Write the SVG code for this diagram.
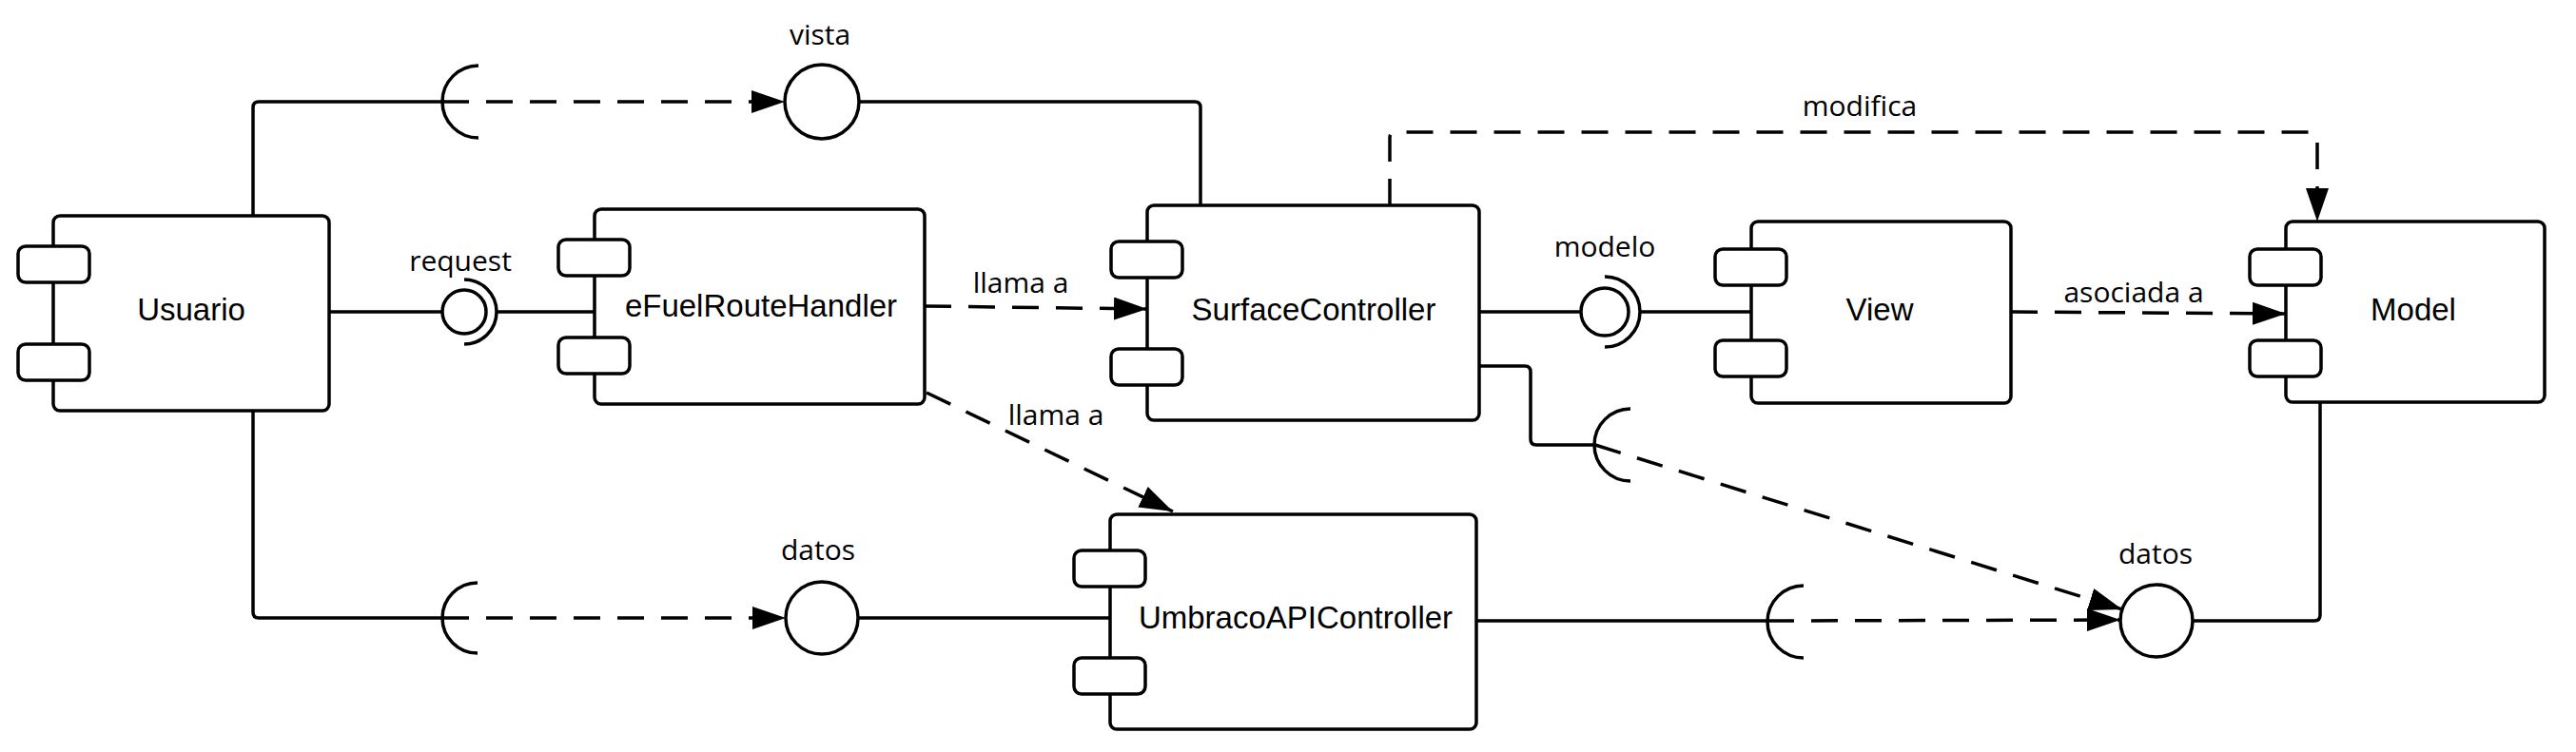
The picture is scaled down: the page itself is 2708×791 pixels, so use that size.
<svg xmlns="http://www.w3.org/2000/svg" width="2708" height="791" viewBox="0 0 2708 791">
<style>
.box{fill:#fff;stroke:#000;stroke-width:3.5}
.port{fill:#fff;stroke:#000;stroke-width:3.5}
.ntext{font-family:"Liberation Sans",Arial,sans-serif;font-size:33px;text-anchor:middle;fill:#000}
.lbl{font-family:"Open Sans","Liberation Sans",sans-serif;font-size:30px;text-anchor:middle;fill:#000}
.solid{fill:none;stroke:#000;stroke-width:3.5}
.dash{fill:none;stroke:#000;stroke-width:3.5;stroke-dasharray:28 18}
.iface{fill:#fff;stroke:#000;stroke-width:3.5}
.sock{fill:none;stroke:#000;stroke-width:3.5}
</style>
<defs>
<marker id="arr" markerUnits="userSpaceOnUse" markerWidth="40" markerHeight="30" refX="35" refY="12" orient="auto">
<path d="M0,0 L35,12 L0,24 Z" fill="#000"/>
</marker>
</defs>
<g id="connectors">
<path class="solid" d="M266,227 V113 Q266,107 272,107 H465"/>
<path class="dash" d="M465,107 H825" marker-end="url(#arr)"/>
<path class="solid" d="M903,107 H1256 Q1262,107 1262,113 V216"/>
<path class="solid" d="M266,432 V644 Q266,650 272,650 H465"/>
<path class="dash" d="M465,650 H826" marker-end="url(#arr)"/>
<path class="solid" d="M902,650 H1167"/>
<path class="solid" d="M346,328 H465"/>
<path class="solid" d="M522,328 H625"/>
<path class="dash" d="M972,322 L1206,325" marker-end="url(#arr)"/>
<path class="dash" d="M974,413 L1233,538" marker-end="url(#arr)"/>
<path class="solid" d="M1555,328 H1662"/>
<path class="solid" d="M1724,328 H1841"/>
<path class="dash" d="M2114,328 L2403,330" marker-end="url(#arr)"/>
<path class="dash" d="M1461,216 V145 Q1461,139 1467,139 H2430 Q2436,139 2436,145 V233" marker-end="url(#arr)"/>
<path class="solid" d="M1555,385 H1603 Q1609,385 1609,391 V462 Q1609,468 1615,468 H1677"/>
<path class="dash" d="M1677,468 L2231,641" marker-end="url(#arr)"/>
<path class="solid" d="M1552,653 H1858"/>
<path class="dash" d="M1858,653 L2229,652" marker-end="url(#arr)"/>
<path class="solid" d="M2305,653 H2433 Q2439,653 2439,647 V423"/>
<path class="sock" d="M503,69 A38,38 0 0 0 503,145"/>
<path class="sock" d="M502,613 A37,37 0 0 0 502,687"/>
<path class="sock" d="M1714,430 A38,38 0 0 0 1714,506"/>
<path class="sock" d="M1896,616 A38,38 0 0 0 1896,692"/>
<path class="sock" d="M488,294 A34,34 0 0 1 488,362"/>
<path class="sock" d="M1687,291 A37,37 0 0 1 1687,365"/>
<text class="lbl" x="1073" y="308">llama a</text>
<text class="lbl" x="1110" y="447">llama a</text>
<text class="lbl" x="1955" y="122">modifica</text>
<text class="lbl" x="2243" y="318">asociada a</text>
</g>
<g id="vista">
<circle class="iface" cx="864" cy="107" r="39"/>
<text class="lbl" x="862" y="47">vista</text>
</g>
<g id="datos1">
<circle class="iface" cx="864" cy="650" r="38"/>
<text class="lbl" x="860" y="589">datos</text>
</g>
<g id="datos2">
<circle class="iface" cx="2267" cy="653" r="38"/>
<text class="lbl" x="2266" y="593">datos</text>
</g>
<g id="request">
<circle class="iface" cx="488" cy="328" r="23"/>
<text class="lbl" x="484" y="285">request</text>
</g>
<g id="modelo">
<circle class="iface" cx="1687" cy="328" r="25"/>
<text class="lbl" x="1687" y="270">modelo</text>
</g>
<g id="Usuario">
<rect class="box" x="56" y="227" width="290" height="205" rx="7"/>
<rect class="port" x="19" y="259" width="75" height="38" rx="8"/>
<rect class="port" x="19" y="362" width="75" height="38" rx="8"/>
<text class="ntext" x="201" y="337">Usuario</text>
</g>
<g id="eFuelRouteHandler">
<rect class="box" x="625" y="220" width="347" height="205" rx="7"/>
<rect class="port" x="587" y="252" width="75" height="38" rx="8"/>
<rect class="port" x="587" y="355" width="75" height="38" rx="8"/>
<text class="ntext" x="800" y="333">eFuelRouteHandler</text>
</g>
<g id="SurfaceController">
<rect class="box" x="1206" y="216" width="349" height="226" rx="7"/>
<rect class="port" x="1168" y="254" width="75" height="38" rx="8"/>
<rect class="port" x="1168" y="367" width="75" height="38" rx="8"/>
<text class="ntext" x="1381" y="337">SurfaceController</text>
</g>
<g id="View">
<rect class="box" x="1841" y="233" width="273" height="191" rx="7"/>
<rect class="port" x="1803" y="262" width="75" height="38" rx="8"/>
<rect class="port" x="1803" y="358" width="75" height="38" rx="8"/>
<text class="ntext" x="1976" y="337">View</text>
</g>
<g id="Model">
<rect class="box" x="2403" y="233" width="272" height="190" rx="7"/>
<rect class="port" x="2365" y="262" width="75" height="38" rx="8"/>
<rect class="port" x="2365" y="358" width="75" height="38" rx="8"/>
<text class="ntext" x="2537" y="337">Model</text>
</g>
<g id="UmbracoAPIController">
<rect class="box" x="1167" y="541" width="385" height="226" rx="7"/>
<rect class="port" x="1129" y="579" width="75" height="38" rx="8"/>
<rect class="port" x="1129" y="692" width="75" height="38" rx="8"/>
<text class="ntext" x="1362" y="661">UmbracoAPIController</text>
</g>
</svg>
